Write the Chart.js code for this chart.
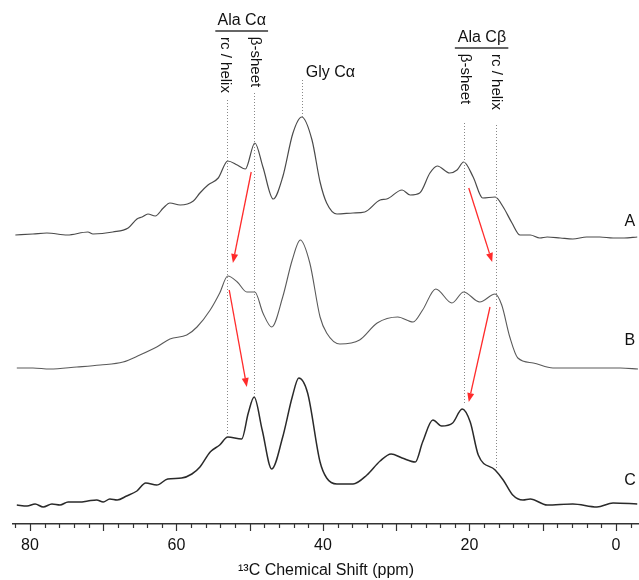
<!DOCTYPE html>
<html>
<head>
<meta charset="utf-8">
<script src="https://cdn.jsdelivr.net/npm/chart.js@4.4.0/dist/chart.umd.min.js"></script>
<style>
  html, body { margin: 0; padding: 0; background: #fff; }
  #wrap { width: 639px; height: 580px; position: relative; }
</style>
</head>
<body>
<div id="wrap"><canvas id="nmrChart"></canvas></div>
<script>
// 13C spectra: chemical shift (ppm) and stacked intensity (a.u.)
const ppmA = [82.0, 79.6, 77.7, 74.9, 72.1, 71.4, 68.7, 66.6, 65.4, 64.7, 63.9, 62.9, 61.8, 60.9, 59.5, 57.7,
  56.8, 55.7, 54.3, 53.0, 51.7, 50.6, 49.3, 48.2, 46.8, 45.5, 44.1, 42.9, 41.5, 40.4, 39.5, 38.1, 35.9, 34.3,
  32.2, 31.3, 29.2, 28.1, 26.8, 25.4, 24.4, 22.7, 21.7, 20.8, 19.5, 18.2, 16.5, 15.4, 14.2, 13.1, 11.7, 10.4,
  9.4, 7.6, 5.9, 4.0, 2.2, 0.4, -1.1, -2.9];
const intA = [289, 290, 291, 289, 292, 290, 292, 296, 305, 307, 310, 308, 316, 321, 319, 323,
  331, 339, 346, 363, 359, 355, 381, 357, 325, 347, 391, 407, 384, 342, 321, 310, 311, 312,
  324, 325, 334, 329, 331, 351, 358, 351, 354, 362, 347, 326, 327, 317, 301, 289, 289, 286,
  287, 286, 285, 287, 287, 286, 286, 287];

const ppmB = [81.8, 79.6, 77.3, 73.6, 70.4, 67.3, 65.0, 62.7, 60.9, 58.6, 57.2, 55.4, 54.1, 53.0, 51.7, 50.4,
  49.3, 48.2, 47.0, 45.5, 44.2, 43.1, 41.8, 40.4, 39.5, 37.7, 35.0, 32.6, 29.8, 27.7, 26.4, 24.6, 22.4, 20.8,
  18.6, 16.5, 15.6, 14.5, 13.4, 11.3, 8.6, 4.0, -0.6, -3.0];
const intB = [156, 156, 155, 157, 159, 162, 169, 177, 185, 189, 197, 214, 231, 248, 242, 232,
  232, 211, 197, 227, 264, 284, 261, 207, 191, 180, 184, 201, 207, 202, 214, 235, 221, 232,
  222, 230, 219, 187, 166, 161, 156, 156, 156, 155];

const ppmC = [81.8, 80.4, 79.3, 78.2, 77.0, 75.9, 74.8, 73.2, 72.1, 70.9, 70.0, 69.1, 68.1, 66.8, 65.4, 64.2,
  62.7, 61.2, 59.3, 57.9, 56.8, 55.4, 54.1, 53.0, 51.1, 50.2, 49.4, 48.3, 47.0, 45.5, 44.2, 43.3, 42.1, 40.4,
  39.5, 38.1, 35.9, 34.0, 32.2, 30.7, 29.2, 27.4, 26.4, 25.0, 23.8, 22.3, 21.0, 19.9, 18.8, 16.5, 15.4, 14.1,
  12.7, 11.7, 9.4, 5.9, 2.6, 0.4, -2.9];
const intC = [19, 18, 20, 17, 20, 19, 22, 22, 23, 24, 22, 25, 24, 28, 33, 41,
  39, 45, 46, 50, 57, 72, 79, 87, 85, 111, 127, 94, 55, 87, 127, 146, 131, 62,
  46, 40, 40, 49, 63, 70, 66, 62, 82, 104, 98, 101, 115, 102, 69, 54, 44, 29,
  24, 25, 19, 20, 17, 21, 20];

const traceLabels = ['A', 'B', 'C'];
const majorTicks = [80, 60, 40, 20, 0];

function toPoints(xs, ys) {
  return xs.map((x, i) => ({ x: x, y: ys[i] }));
}

// dotted reference lines (ppm, intensity span)
const refLines = [
  { ppm: 53.1, top: 424, bottom: 89 },
  { ppm: 49.4, top: 431, bottom: 129 },
  { ppm: 42.9, top: 444, bottom: 407 },
  { ppm: 20.8, top: 401, bottom: 119 },
  { ppm: 16.4, top: 399, bottom: 56 }
];

// red arrows showing the peak shifts
const arrows = [
  { x1: 49.8, y1: 352, x2: 52.3, y2: 261 },
  { x1: 52.8, y1: 234, x2: 50.4, y2: 137 },
  { x1: 20.1, y1: 336, x2: 16.9, y2: 262 },
  { x1: 17.2, y1: 217, x2: 20.1, y2: 122 }
];

const headers = [
  { text: 'Ala Cα', ppm: 51.1, y: 503, line: [54.7, 47.5, 493] },
  { text: 'Gly Cα', ppm: 39.0, y: 451 },
  { text: 'Ala Cβ', ppm: 18.3, y: 486, line: [22.0, 14.7, 476] }
];

const sideTexts = [
  { text: 'rc / helix', ppm: 53.3, y: 459 },
  { text: 'β-sheet', ppm: 49.3, y: 462 },
  { text: 'β-sheet', ppm: 20.6, y: 445 },
  { text: 'rc / helix', ppm: 16.3, y: 442 }
];

const traceLabelPos = [
  { ppm: -1.9, y: 302 },
  { ppm: -1.9, y: 183 },
  { ppm: -1.9, y: 43 }
];

const FONT = '"Liberation Sans", Arial, sans-serif';

const nmrAnnotations = {
  id: 'nmrAnnotations',
  afterDatasetsDraw(chart) {
    const ctx = chart.ctx;
    const X = v => chart.scales.x.getPixelForValue(v);
    const Y = v => chart.scales.y.getPixelForValue(v);
    const axisY = chart.chartArea.bottom;
    ctx.save();

    // axis ticks, long every 10 ppm
    ctx.strokeStyle = '#333';
    ctx.lineWidth = 1.2;
    for (let v = -2; v <= 82; v += 2) {
      const len = v % 10 === 0 ? 7 : 4;
      const px = Math.round(X(v)) + 0.5;
      ctx.beginPath();
      ctx.moveTo(px, axisY);
      ctx.lineTo(px, axisY + len);
      ctx.stroke();
    }

    // dotted guides
    ctx.strokeStyle = '#888';
    ctx.lineWidth = 1;
    ctx.setLineDash([1, 2]);
    refLines.forEach(l => {
      const px = Math.round(X(l.ppm)) + 0.5;
      ctx.beginPath();
      ctx.moveTo(px, Y(l.top));
      ctx.lineTo(px, Y(l.bottom));
      ctx.stroke();
    });
    ctx.setLineDash([]);

    // arrows
    ctx.strokeStyle = '#ff2b2b';
    ctx.fillStyle = '#ff2b2b';
    ctx.lineWidth = 1.3;
    arrows.forEach(a => {
      const x1 = X(a.x1), y1 = Y(a.y1), x2 = X(a.x2), y2 = Y(a.y2);
      const ang = Math.atan2(y2 - y1, x2 - x1);
      const head = 9, half = 3.5;
      const bx = x2 - head * Math.cos(ang), by = y2 - head * Math.sin(ang);
      ctx.beginPath();
      ctx.moveTo(x1, y1);
      ctx.lineTo(bx, by);
      ctx.stroke();
      ctx.beginPath();
      ctx.moveTo(x2, y2);
      ctx.lineTo(bx + half * Math.sin(ang), by - half * Math.cos(ang));
      ctx.lineTo(bx - half * Math.sin(ang), by + half * Math.cos(ang));
      ctx.closePath();
      ctx.fill();
    });

    // headers
    ctx.fillStyle = '#111';
    ctx.strokeStyle = '#333';
    ctx.lineWidth = 1.5;
    ctx.font = '16px ' + FONT;
    ctx.textAlign = 'center';
    ctx.textBaseline = 'middle';
    headers.forEach(h => {
      ctx.fillText(h.text, X(h.ppm), Y(h.y));
      if (h.line) {
        ctx.beginPath();
        ctx.moveTo(X(h.line[0]), Y(h.line[2]));
        ctx.lineTo(X(h.line[1]), Y(h.line[2]));
        ctx.stroke();
      }
    });

    // rotated labels
    ctx.font = '15px ' + FONT;
    sideTexts.forEach(s => {
      ctx.save();
      ctx.translate(X(s.ppm), Y(s.y));
      ctx.rotate(Math.PI / 2);
      ctx.fillText(s.text, 0, 0);
      ctx.restore();
    });

    // trace letters
    ctx.font = '16px ' + FONT;
    traceLabels.forEach((t, i) => {
      ctx.fillText(t, X(traceLabelPos[i].ppm), Y(traceLabelPos[i].y));
    });

    ctx.restore();
  }
};

new Chart(document.getElementById('nmrChart').getContext('2d'), {
  type: 'line',
  data: {
    datasets: [
      { label: 'A', data: toPoints(ppmA, intA), borderColor: '#4a4a4a', borderWidth: 1.2 },
      { label: 'B', data: toPoints(ppmB, intB), borderColor: '#5a5a5a', borderWidth: 1.1 },
      { label: 'C', data: toPoints(ppmC, intC), borderColor: '#2a2a2a', borderWidth: 1.5 }
    ]
  },
  options: {
    responsive: true,
    maintainAspectRatio: false,
    animation: false,
    layout: { padding: { left: 13, right: 0, top: 0, bottom: 0 } },
    elements: {
      point: { radius: 0 },
      line: { cubicInterpolationMode: 'monotone', fill: false }
    },
    plugins: {
      legend: { display: false },
      tooltip: { enabled: false }
    },
    scales: {
      x: {
        type: 'linear',
        reverse: true,
        min: -3.14,
        max: 82.32,
        afterFit: s => { s.height = 56; },
        afterBuildTicks: s => {
          const t = [];
          for (let v = -2; v <= 82; v += 2) t.push({ value: v });
          s.ticks = t;
        },
        border: { display: true, color: '#333', width: 1.5 },
        grid: { display: true, drawOnChartArea: false, drawTicks: false },
        ticks: {
          autoSkip: false,
          maxRotation: 0,
          padding: 12,
          color: '#111',
          font: { family: FONT, size: 16 },
          callback: v => majorTicks.includes(v) ? String(v) : ''
        },
        title: {
          display: true,
          text: '¹³C Chemical Shift (ppm)',
          color: '#111',
          font: { family: FONT, size: 16 },
          padding: { top: 0, bottom: 0 }
        }
      },
      y: {
        display: false,
        min: 0,
        max: 524
      }
    }
  },
  plugins: [nmrAnnotations]
});
</script>
</body>
</html>
